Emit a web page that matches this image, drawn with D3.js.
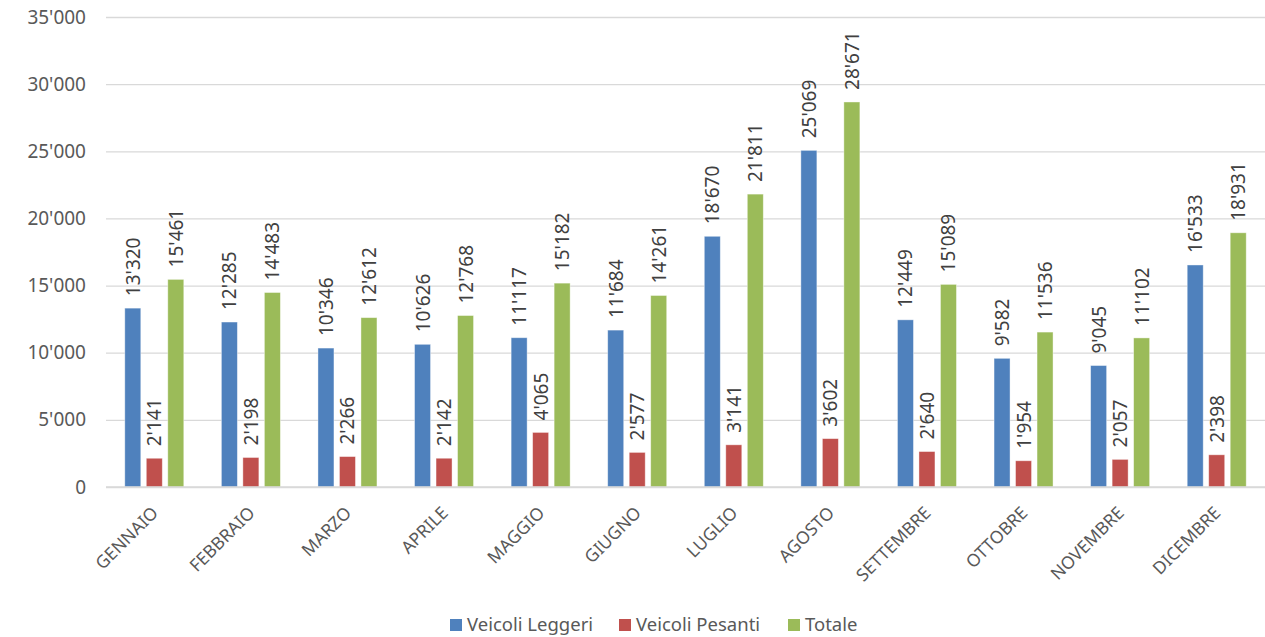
<!DOCTYPE html>
<html><head><meta charset="utf-8">
<script src="https://cdn.jsdelivr.net/npm/d3@7"></script>
<style>body{margin:0;background:#fff;} text{font-family:"Noto Sans",sans-serif;}</style>
</head><body>
<svg id="c" width="1265" height="637"></svg>
<script>
const months = ["GENNAIO","FEBBRAIO","MARZO","APRILE","MAGGIO","GIUGNO","LUGLIO","AGOSTO","SETTEMBRE","OTTOBRE","NOVEMBRE","DICEMBRE"];
const seriesNames = ["Veicoli Leggeri","Veicoli Pesanti","Totale"];
const leggeri = [13320,12285,10346,10626,11117,11684,18670,25069,12449,9582,9045,16533];
const pesanti = [2141,2198,2266,2142,4065,2577,3141,3602,2640,1954,2057,2398];
const totale  = [15461,14483,12612,12768,15182,14261,21811,28671,15089,11536,11102,18931];
const yTicks = [0,5000,10000,15000,20000,25000,30000,35000];
const colors = ["#4F81BD","#C0504D","#9BBB59"];

(function(){
const svg = d3.select("#c");
const pL = 106, pR = 1265, pT = 17, pB = 487;
const x = d3.scaleBand().domain(months).range([pL, pR]).paddingInner(0).paddingOuter(0);
const y = d3.scaleLinear().domain([0,35000]).range([pB, pT]);
const fmt = v => d3.format(",")(v).replace(/,/g,"'");

const data = [leggeri, pesanti, totale];
const barW = 16, gap = 5.5;
const xs = d3.scaleBand().domain([0,1,2]).range([-(barW*1.5+gap), barW*1.5+gap]).paddingInner(gap/(barW+gap)).paddingOuter(0);

const yAxis = d3.axisLeft(y).tickValues(yTicks).tickFormat(fmt).tickSize(-(pR-pL)).tickPadding(20);
const ga = svg.append("g").attr("transform",`translate(${pL},0)`).call(yAxis);
ga.select(".domain").remove();
ga.selectAll(".tick line").attr("stroke","#d9d9d9").attr("stroke-width",1.3);
ga.selectAll(".tick text").attr("fill","#595959").style("font-size","19px").attr("font-family","Noto Sans");

data.forEach((vals, s) => {
  const g = svg.append("g");
  g.selectAll("rect").data(vals).enter().append("rect")
    .attr("x",(d,i)=> x(months[i]) + x.bandwidth()/2 + xs(s))
    .attr("width", xs.bandwidth())
    .attr("y", d=> y(d))
    .attr("height", d=> pB - y(d))
    .attr("fill", colors[s])
    .attr("stroke","#ffffff").attr("stroke-opacity",0.5).attr("stroke-width",0.8);
  g.selectAll("text").data(vals).enter().append("text")
    .attr("transform",(d,i)=>`translate(${x(months[i]) + x.bandwidth()/2 + xs(s) + xs.bandwidth()/2 + 7},${y(d)-12}) rotate(-90)`)
    .attr("text-anchor","start")
    .attr("fill","#404040").style("font-size","19px")
    .text(d=>fmt(d));
});

svg.append("line").attr("x1",pL).attr("x2",pR).attr("y1",pB).attr("y2",pB).attr("stroke","#d9d9d9").attr("stroke-width",1.3);

svg.append("g").selectAll("text").data(months).enter().append("text")
  .attr("transform", d=>`translate(${x(d)+x.bandwidth()/2+5},${pB+27}) rotate(-45)`)
  .attr("text-anchor","end")
  .attr("fill","#595959").style("font-size","17.5px")
  .text(d=>d);

const legX = [450, 619, 788];
const lg = svg.append("g");
seriesNames.forEach((n,i)=>{
  lg.append("rect").attr("x",legX[i]).attr("y",619).attr("width",12).attr("height",12).attr("fill",colors[i]);
  lg.append("text").attr("x",legX[i]+17).attr("y",631).attr("fill","#595959").style("font-size","18.5px").text(n);
});
})();
</script>
</body></html>
